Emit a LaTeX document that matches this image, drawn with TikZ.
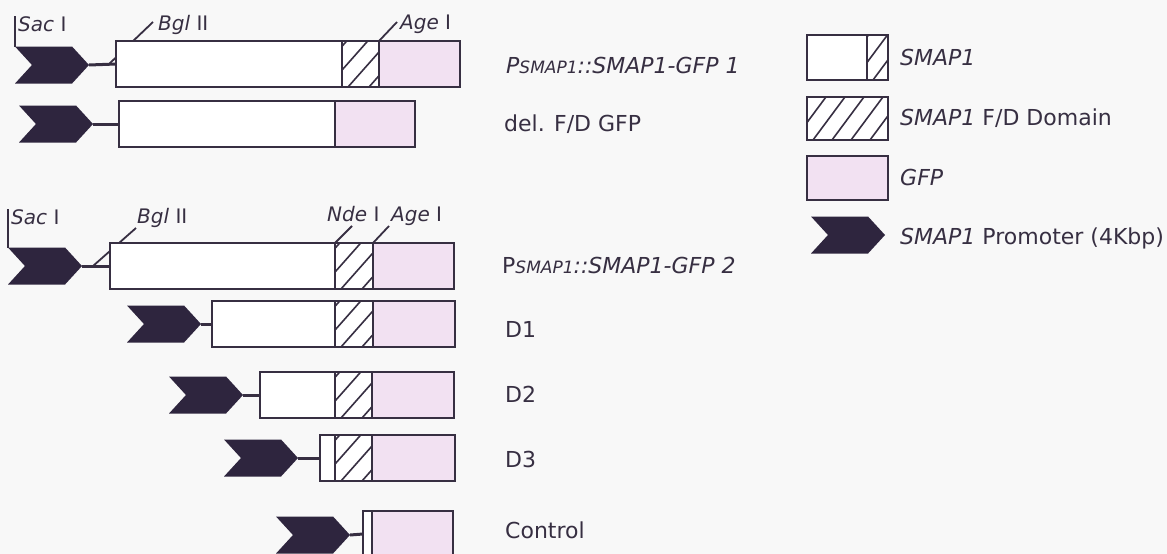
\documentclass[tikz,border=0pt]{standalone}
\usepackage{fontspec}
\setmainfont{DejaVu Sans}
\usetikzlibrary{shapes.symbols}
\definecolor{bg}{RGB}{248,248,248}
\definecolor{ink}{RGB}{55,47,66}
\definecolor{prom}{RGB}{46,37,62}
\definecolor{gfp}{RGB}{242,225,242}
\newcommand\smsub[1]{{\fontsize{17}{17}\selectfont\itshape #1}}
\newcommand\seg[6]{\node[#6, minimum width=#4pt, minimum height=#5pt] (#1) at (#2,#3) {};}
\tikzset{
  segbox/.style={draw=ink, line width=2.8pt, inner sep=0pt, outer sep=0pt, anchor=north west},
  wseg/.style={segbox, fill=white},
  gseg/.style={segbox, fill=gfp},
  hatchfill/.style n args={3}{path picture={
      \foreach \i in {-6,...,10}{
        \draw[ink, line width=1.6pt] ([xshift={\i*#3+6}]path picture bounding box.south west) -- ++(#1,#2);}}},
  hseg/.style={segbox, fill=white, hatchfill={62}{-70}{21}},
  lhseg/.style={segbox, fill=white, hatchfill={52}{-70}{19}},
  promo/.style={signal, signal to=east, signal from=west, signal pointer angle=95,
      fill=prom, draw=none, inner sep=0pt, outer sep=0pt,
      minimum width=74pt, minimum height=37pt, anchor=east},
  link/.style={draw=ink, line width=3pt},
  site/.style={draw=ink, line width=1.8pt},
  lab/.style={anchor=base west, inner sep=0pt, text=ink, font=\fontsize{22}{26}\selectfont},
  slab/.style={anchor=base west, inner sep=0pt, text=ink, font=\fontsize{20}{24}\selectfont},
}
\begin{document}
\begin{tikzpicture}[x=1pt, y=-1pt]
\fill[bg] (0,0) rectangle (1167,554);
\useasboundingbox (0,0) rectangle (1167,554);

% ---------- Row 1 ----------
\node[promo] (p1) at (89,65) {};
\coordinate (bgl1a) at (108,65);
\coordinate (bgl1b) at (153,22);
\draw[site] (bgl1a) -- (bgl1b);
\seg{r1w}{116}{41}{226}{46}{wseg}
\seg{r1h}{342}{41}{37}{46}{hseg}
\seg{r1g}{379}{41}{81}{46}{gseg}
\draw[link] (p1.east) -- (r1w.west);
\node[slab] (sac1) at (18,31) {\textit{Sac} I};
\draw[site] (p1.north west) -- (p1.north west |- sac1.north);
\node[slab] (bgl1) at (158,30) {\textit{Bgl} II};
\coordinate (age1b) at (397,22);
\draw[site] (r1g.north west) -- (age1b);
\node[slab] (age1) at (400,29) {\textit{Age} I};
\node[lab] (l1) at (506,73) {\textit{P\smsub{SMAP1}::SMAP1-GFP 1}};

% ---------- Row 2 ----------
\node[promo] (p2) at (93,124) {};
\seg{r2w}{119}{101}{216}{46}{wseg}
\seg{r2g}{335}{101}{80}{46}{gseg}
\draw[link] (p2.east) -- (r2w.west);
\node[lab] (l2) at (504,131) {del. F/D GFP};

% ---------- Row 3 ----------
\node[promo] (p3) at (82,266) {};
\coordinate (bgl3a) at (93,266);
\coordinate (bgl3b) at (136,228);
\draw[site] (bgl3a) -- (bgl3b);
\seg{r3w}{110}{243}{225}{46}{wseg}
\seg{r3h}{335}{243}{38}{46}{hseg}
\seg{r3g}{373}{243}{81}{46}{gseg}
\draw[link] (p3.east) -- (r3w.west);
\node[slab] (sac3) at (11,224) {\textit{Sac} I};
\draw[site] (p3.north west) -- (p3.north west |- sac3.north);
\node[slab] (bgl3) at (137,223) {\textit{Bgl} II};
\coordinate (nde3b) at (352,226);
\draw[site] (r3h.north west) -- (nde3b);
\node[slab] (nde3) at (327,221) {\textit{Nde} I};
\coordinate (age3b) at (389,226);
\draw[site] (r3g.north west) -- (age3b);
\node[slab] (age3) at (391,221) {\textit{Age} I};
\node[lab] (l3) at (502,273) {P\smsub{SMAP1}\textit{::SMAP1-GFP 2}};

% ---------- D1 ----------
\node[promo] (p4) at (201,324) {};
\seg{r4w}{212}{301}{123}{46}{wseg}
\seg{r4h}{335}{301}{38}{46}{hseg}
\seg{r4g}{373}{301}{82}{46}{gseg}
\draw[link] (p4.east) -- (r4w.west);
\node[lab] (l4) at (505,337) {D1};

% ---------- D2 ----------
\node[promo] (p5) at (243,395) {};
\seg{r5w}{260}{372}{75}{46}{wseg}
\seg{r5h}{335}{372}{37}{46}{hseg}
\seg{r5g}{372}{372}{82}{46}{gseg}
\draw[link] (p5.east) -- (r5w.west);
\node[lab] (l5) at (505,402) {D2};

% ---------- D3 ----------
\node[promo] (p6) at (298,458) {};
\seg{r6w}{320}{435}{15}{46}{wseg}
\seg{r6h}{335}{435}{37}{46}{hseg}
\seg{r6g}{372}{435}{83}{46}{gseg}
\draw[link] (p6.east) -- (r6w.west);
\node[lab] (l6) at (505,467) {D3};

% ---------- Control ----------
\node[promo] (p7) at (350,535) {};
\seg{r7w}{363}{511}{9}{46}{wseg}
\seg{r7g}{372}{511}{81}{46}{gseg}
\draw[link] (p7.east) -- (r7w.west);
\node[lab] (l7) at (505,538) {Control};

% ---------- Legend ----------
\seg{k1w}{807}{35}{60}{45}{wseg}
\seg{k1h}{867}{35}{21}{45}{lhseg}
\node[lab] (k1l) at (900,65) {\textit{SMAP1}};
\seg{k2}{807}{97}{81}{43}{lhseg}
\node[lab] (k2l) at (900,125) {\textit{SMAP1} F/D Domain};
\seg{k3}{807}{156}{81}{44}{gseg}
\node[lab] (k3l) at (900,185) {\textit{GFP}};
\node[promo] (k4) at (885,235) {};
\node[lab] (k4l) at (900,244) {\textit{SMAP1} Promoter (4Kbp)};
\end{tikzpicture}
\end{document}
